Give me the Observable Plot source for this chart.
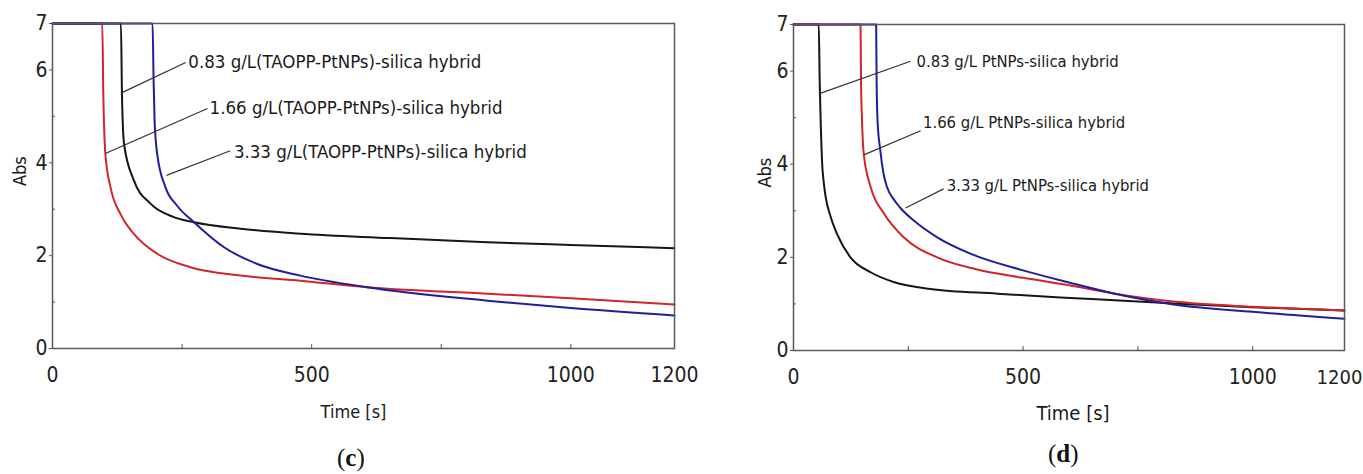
<!DOCTYPE html>
<html><head><meta charset="utf-8">
<script src="https://cdn.jsdelivr.net/npm/d3@7"></script>
<script src="https://cdn.jsdelivr.net/npm/@observablehq/plot@0.6"></script>
<style>
body{margin:0;background:#fff;}
#wrap{position:relative;width:1363px;height:474px;overflow:hidden;}
.panel{position:absolute;top:0;}
.cap{position:absolute;font-family:"Liberation Serif","DejaVu Serif",serif;font-size:25px;color:#111;line-height:1;}
</style></head><body>
<div id="wrap">
  <div id="pc" class="panel" style="left:0px"></div>
  <div id="pd" class="panel" style="left:720px"></div>
  <div class="cap" style="left:337px;top:445px">(<b>c</b>)</div>
  <div class="cap" style="left:1048px;top:441px">(<b>d</b>)</div>
</div>
<script>
// ---------- Panel (c): (TAOPP-PtNPs)-silica hybrid ----------
const cTime083 = [0, 132, 134, 138, 157, 189, 234, 273, 363, 478, 650, 839, 1000, 1200];
const cAbs083  = [7, 7, 5.5, 4.41, 3.62, 3.12, 2.83, 2.72, 2.58, 2.47, 2.38, 2.29, 2.23, 2.16];
const cTime166 = [0, 96, 98, 102, 112, 131, 157, 202, 266, 363, 478, 607, 839, 1000, 1200];
const cAbs166  = [7, 7, 5.5, 4.19, 3.47, 2.90, 2.47, 2.04, 1.75, 1.57, 1.46, 1.32, 1.18, 1.08, 0.95];
const cTime333 = [0, 193, 195, 197, 202, 218, 240, 273, 331, 395, 478, 607, 839, 1000, 1200];
const cAbs333  = [7, 7, 5.8, 4.9, 4.19, 3.47, 3.08, 2.72, 2.18, 1.82, 1.57, 1.32, 1.03, 0.87, 0.71];

// ---------- Panel (d): PtNPs-silica hybrid ----------
const dTime083 = [0, 55, 57, 59, 62.5, 66, 70, 80, 95, 124, 168, 218, 298, 444, 581, 719, 850, 1000, 1200];
const dAbs083  = [7, 7, 5.8, 5.0, 4.0, 3.6, 3.3, 2.9, 2.5, 2.0, 1.68, 1.47, 1.32, 1.22, 1.14, 1.07, 1.0, 0.93, 0.86];
const dTime166 = [0, 146, 147, 149, 153, 168, 197, 240, 313, 400, 500, 600, 700, 828, 1000, 1200];
const dAbs166  = [7, 7, 5.8, 5.0, 4.22, 3.51, 2.94, 2.43, 2.0, 1.74, 1.56, 1.40, 1.22, 1.05, 0.94, 0.86];
const dTime333 = [0, 180, 181, 183, 189, 196, 204, 218, 233, 262, 313, 385, 500, 600, 700, 828, 1000, 1200];
const dAbs333  = [7, 7, 5.8, 4.94, 4.3, 3.8, 3.5, 3.25, 3.06, 2.79, 2.43, 2.08, 1.72, 1.46, 1.22, 0.99, 0.83, 0.68];

// ---------- Annotations (data units) ----------
const cLabels = ["0.83 g/L(TAOPP-PtNPs)-silica hybrid", "1.66 g/L(TAOPP-PtNPs)-silica hybrid", "3.33 g/L(TAOPP-PtNPs)-silica hybrid"];
const cLeadT1 = [132, 102, 220];
const cLeadA1 = [5.50, 4.20, 3.73];
const cLeadT2 = [257, 299, 343];
const cLeadA2 = [6.16, 5.17, 4.26];
const cTextT  = [262, 303, 350];
const cTextA  = [6.16, 5.17, 4.22];

const dLabels = ["0.83 g/L PtNPs-silica hybrid", "1.66 g/L PtNPs-silica hybrid", "3.33 g/L PtNPs-silica hybrid"];
const dLeadT1 = [55, 153, 244];
const dLeadA1 = [5.51, 4.20, 3.06];
const dLeadT2 = [255, 277, 327];
const dLeadA2 = [6.21, 4.72, 3.47];
const dTextT  = [268, 282, 334];
const dTextA  = [6.21, 4.90, 3.54];

// ---------- Ticks ----------
const xTickLabels = [0, 500, 1000];
const xTickEnd    = [1200];
const xTickMarks  = [250, 500, 750, 1000];
const yTickLabels = [0, 2, 4, 6, 7];
const yTickMinor  = [1, 3, 5];

const seriesColors = {"0.83": "#161616", "1.66": "#d0262a", "3.33": "#1f1f9c"};

const FONT = '"Liberation Sans Narrow","DejaVu Sans Condensed","Liberation Sans",Arial,sans-serif';

function toRows(name, ts, as) { return ts.map((t, i) => ({series: name, t, abs: as[i]})); }
function toLabels(txt, t1, a1, t2, a2, tt, ta) {
  return txt.map((s, i) => ({text: s, t1: t1[i], a1: a1[i], t2: t2[i], a2: a2[i], tt: tt[i], ta: ta[i]}));
}

function panel(cfg) {
  const lines = cfg.order.map(([name, ts, as]) =>
    Plot.line(toRows(name, ts, as), {x: "t", y: "abs", stroke: seriesColors[name], strokeWidth: 2, curve: "monotone-x"}));
  return Plot.plot({
    width: cfg.width, height: 430,
    marginLeft: cfg.ml, marginRight: cfg.mr, marginTop: cfg.mt, marginBottom: cfg.mb,
    x: {domain: [0, 1200]},
    y: {domain: [0, 7]},
    style: {fontFamily: FONT, background: "transparent", color: "#222", overflow: "visible"},
    marks: [
      Plot.axisY(yTickLabels, {tickSize: 3, tickPadding: 2, fontSize: 21, label: null, stroke: "#555", tickFormat: d => String(d)}),
      Plot.axisY(yTickMinor, {tickSize: 3, dx: 3, fill: "none", label: null, stroke: "#555"}),
      Plot.axisX(xTickLabels, {tickSize: 0, tickPadding: 19, fontSize: 21, label: null, tickFormat: d => String(d)}),
      Plot.axisX(xTickEnd, {tickSize: 0, tickPadding: 19, fontSize: cfg.endSize, dx: cfg.endDx, label: null, tickFormat: d => String(d)}),
      Plot.axisX(xTickMarks, {tickSize: 4, dy: -4, fill: "none", label: null, stroke: "#555"}),
      ...lines,
      Plot.frame({stroke: "#5a5a5a", strokeWidth: 1.5}),
      Plot.link(cfg.labels, {x1: "t1", y1: "a1", x2: "t2", y2: "a2", stroke: "#333", strokeWidth: 1.2}),
      Plot.text(cfg.labels, {x: "tt", y: "ta", text: "text", textAnchor: "start", fontSize: cfg.labelSize, fill: "#1a1a1a"}),
      Plot.text(["Abs"], {frameAnchor: "left", dx: cfg.absDx, rotate: -90, fontSize: 18, fill: "#1a1a1a"}),
      Plot.text(["Time [s]"], {frameAnchor: "bottom", dx: cfg.timeDx, dy: cfg.timeDy, fontSize: cfg.timeSize, fill: "#1a1a1a"})
    ]
  });
}

document.getElementById("pc").append(panel({
  width: 700, ml: 52, mr: 26, mt: 23, mb: 82, absDx: -32, timeDx: -10, timeDy: 69, timeSize: 18, labelSize: 18.5,
  endSize: 21, endDx: 0,
  order: [["1.66", cTime166, cAbs166], ["0.83", cTime083, cAbs083], ["3.33", cTime333, cAbs333]],
  labels: toLabels(cLabels, cLeadT1, cLeadA1, cLeadT2, cLeadA2, cTextT, cTextA)
}));
document.getElementById("pd").append(panel({
  width: 643, ml: 73, mr: 19, mt: 24, mb: 80, absDx: -28, timeDx: 4, timeDy: 69, timeSize: 20, labelSize: 16.5,
  endSize: 20, endDx: -5,
  order: [["0.83", dTime083, dAbs083], ["1.66", dTime166, dAbs166], ["3.33", dTime333, dAbs333]],
  labels: toLabels(dLabels, dLeadT1, dLeadA1, dLeadT2, dLeadA2, dTextT, dTextA)
}));
</script>
</body></html>
